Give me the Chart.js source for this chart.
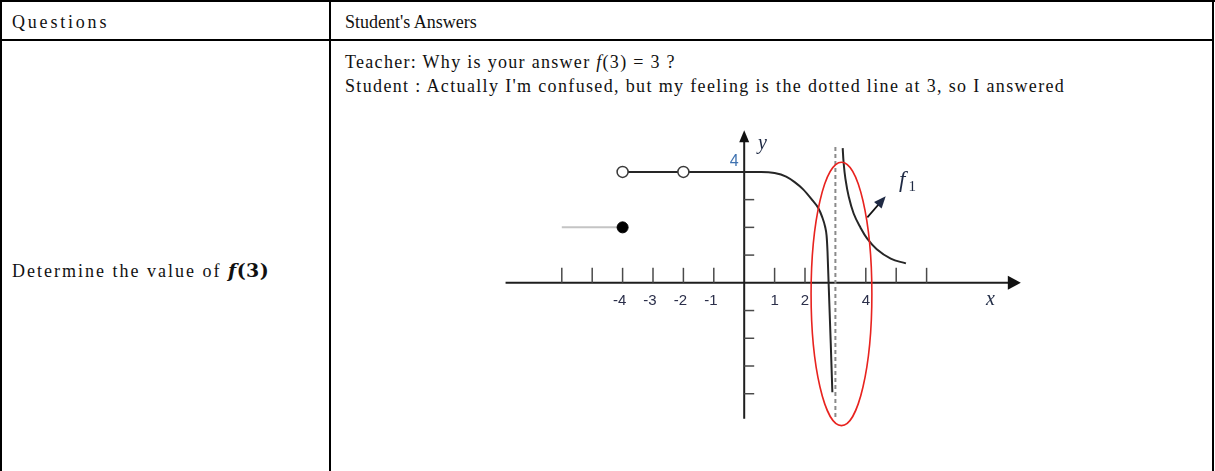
<!DOCTYPE html>
<html>
<head>
<meta charset="utf-8">
<script src="https://cdn.jsdelivr.net/npm/chart.js@4.4.1/dist/chart.umd.min.js"></script>
<style>
    body { margin: 0; background: #fff; width: 1215px; height: 471px; overflow: hidden; position: relative; }
    .line { position: absolute; background: #000; }
    .txt { position: absolute; font-family: 'Liberation Serif', 'Times New Roman', serif; font-size: 18px; color: #111; white-space: nowrap; line-height: 22px; }
    .math { font-family: 'DejaVu Serif', serif; font-size: 19px; letter-spacing: 0.5px; }
    #graph { position: absolute; left: 494px; top: 115px; }
</style>
</head>
<body>
<!-- table frame -->
<div class="line" style="left:0;top:0;width:1215px;height:2px"></div>
<div class="line" style="left:0;top:0;width:2px;height:471px"></div>
<div class="line" style="left:1212px;top:0;width:2px;height:471px"></div>
<div class="line" style="left:0;top:39px;width:1214px;height:2px"></div>
<div class="line" style="left:329px;top:0;width:2px;height:471px"></div>

<div class="txt" style="left:12px;top:11px;letter-spacing:2.8px">Questions</div>
<div class="txt" style="left:345px;top:11px">Student's Answers</div>
<div class="txt" style="left:345px;top:51px;letter-spacing:1.3px">Teacher: Why is your answer <i>f</i>(3) = 3 ?</div>
<div class="txt" style="left:345px;top:75px;letter-spacing:1.35px">Student : Actually I'm confused, but my feeling is the dotted line at 3, so I answered</div>
<div class="txt" style="left:12px;top:259px;letter-spacing:2px">Determine the value of <span class="math"><b><i>f</i>(3)</b></span></div>

<canvas id="graph" width="546" height="319"></canvas>

<script>
// left branch of f (open circles at -4 and -2, then falling towards x = 3)
const leftX = [-4, 0, 0.56, 1.0, 1.38, 1.66, 1.94, 2.24, 2.44, 2.56, 2.66, 2.71, 2.74, 2.9];
const leftY = [4, 4, 4, 3.96, 3.83, 3.63, 3.37, 2.98, 2.69, 2.39, 2.03, 1.7, 1.14, -3.95];

// right branch f1
const rightX = [3.24, 3.27, 3.33, 3.44, 3.6, 3.83, 4.04, 4.36, 4.82, 5.32];
const rightY = [4.86, 4.34, 3.75, 3.1, 2.5, 1.98, 1.6, 1.21, 0.87, 0.7];

// gray piece ending in the filled dot
const stubX = [-6, -4];
const stubY = [2, 2];

const openX = [-4, -2];
const openY = [4, 4];
const dotX = [-4];
const dotY = [2];

const asymptoteX = 3;
const asymptoteY = [4.9, -4.9];

// axes and ticks
const xAxisRange = [-7.85, 9.1];
const yAxisRange = [-4.9, 5.5];
const xTickValues = [-6, -5, -4, -3, -2, -1, 1, 2, 4, 5, 6];
const xTickLabels = [-4, -3, -2, -1, 1, 2, 4];
const yTickValues = [3, 2, 1, -1, -2, -3, -4];

const toPoints = (xs, ys) => xs.map((x, i) => ({ x: x, y: ys[i] }));

const ctx = document.getElementById('graph').getContext('2d');

// lower "order" is drawn on top
const data = {
    datasets: [
        {
            data: toPoints(stubX, stubY),
            borderColor: '#c4c4c4',
            borderWidth: 2,
            pointRadius: 0,
            showLine: true,
            order: 5
        },
        {
            data: toPoints(leftX, leftY),
            borderColor: '#262626',
            borderWidth: 2,
            pointRadius: 0,
            showLine: true,
            cubicInterpolationMode: 'monotone',
            order: 3
        },
        {
            data: toPoints(rightX, rightY),
            borderColor: '#262626',
            borderWidth: 2,
            pointRadius: 0,
            showLine: true,
            tension: 0.4,
            order: 3
        },
        {
            data: [{ x: asymptoteX, y: asymptoteY[0] }, { x: asymptoteX, y: asymptoteY[1] }],
            borderColor: '#8a8a8a',
            borderWidth: 2,
            borderDash: [4, 3],
            pointRadius: 0,
            showLine: true,
            order: 4
        },
        {
            data: [{ x: xAxisRange[0], y: 0 }, { x: xAxisRange[1] - 0.3, y: 0 }],
            borderColor: '#1e1e1e',
            borderWidth: 2,
            pointRadius: 0,
            showLine: true,
            order: 5
        },
        {
            data: [{ x: 0, y: yAxisRange[0] }, { x: 0, y: yAxisRange[1] - 0.3 }],
            borderColor: '#1e1e1e',
            borderWidth: 2,
            pointRadius: 0,
            showLine: true,
            order: 5
        },
        {
            data: toPoints(openX, openY),
            pointRadius: 5.5,
            pointBackgroundColor: '#ffffff',
            pointBorderColor: '#3a3a3a',
            pointBorderWidth: 1.5,
            showLine: false,
            order: 0
        },
        {
            data: toPoints(dotX, dotY),
            pointRadius: 5.5,
            pointBackgroundColor: '#000000',
            pointBorderColor: '#000000',
            pointBorderWidth: 1,
            showLine: false,
            order: 0
        }
    ]
};

const config = {
    type: 'scatter',
    data: data,
    options: {
        responsive: false,
        animation: false,
        devicePixelRatio: 1,
        layout: { padding: 0 },
        plugins: {
            legend: { display: false },
            tooltip: { enabled: false }
        },
        scales: {
            x: { type: 'linear', min: -8, max: 9.5, display: false },
            y: { type: 'linear', min: -5.2, max: 5.8, display: false }
        }
    },
    plugins: [
        {
            id: 'sketchExtras',
            afterDatasetsDraw: (chart) => {
                const ctx = chart.ctx;
                const sx = chart.scales.x;
                const sy = chart.scales.y;
                const px = v => sx.getPixelForValue(v);
                const py = v => sy.getPixelForValue(v);
                const x0 = px(0);
                const y0 = py(0);

                ctx.save();

                // tick marks on the x axis, pointing up
                ctx.strokeStyle = '#4a4a4a';
                ctx.lineWidth = 1.5;
                xTickValues.forEach(v => {
                    ctx.beginPath();
                    ctx.moveTo(px(v), y0);
                    ctx.lineTo(px(v), y0 - 15);
                    ctx.stroke();
                });
                // tick marks on the y axis, pointing right
                yTickValues.forEach(v => {
                    ctx.beginPath();
                    ctx.moveTo(x0, py(v));
                    ctx.lineTo(x0 + 10, py(v));
                    ctx.stroke();
                });

                // arrow heads
                ctx.fillStyle = '#111';
                const xe = px(xAxisRange[1]);
                ctx.beginPath();
                ctx.moveTo(xe, y0);
                ctx.lineTo(xe - 13, y0 - 7);
                ctx.lineTo(xe - 13, y0 + 7);
                ctx.closePath();
                ctx.fill();
                const ye = py(yAxisRange[1]);
                ctx.beginPath();
                ctx.moveTo(x0, ye);
                ctx.lineTo(x0 - 5, ye + 12);
                ctx.lineTo(x0 + 5, ye + 12);
                ctx.closePath();
                ctx.fill();

                // tick labels
                ctx.font = '15px "Liberation Sans", Arial, sans-serif';
                ctx.textAlign = 'center';
                ctx.textBaseline = 'middle';
                ctx.fillStyle = '#2b2f4a';
                xTickLabels.forEach(v => {
                    const shift = v < 0 ? -3 : 0;
                    ctx.fillText(String(v), px(v) + shift, y0 + 18);
                });
                ctx.fillStyle = '#3f72b0';
                ctx.font = '16px "Liberation Sans", Arial, sans-serif';
                ctx.fillText('4', x0 - 10, py(4) - 10);

                // axis names
                ctx.font = 'italic 20px "Liberation Serif", serif';
                ctx.fillStyle = '#1f2a44';
                ctx.fillText('y', px(0.6), py(5.0));
                ctx.fillText('x', px(8.1), py(-0.6));

                // f1 label and its arrow
                ctx.font = 'italic 23px "Liberation Serif", serif';
                ctx.fillText('f', px(5.2), py(3.68));
                ctx.font = '15px "Liberation Serif", serif';
                ctx.fillText('1', px(5.2) + 10, py(3.68) + 6);

                const ax1 = px(4.05), ay1 = py(2.36);
                const ax2 = px(4.59), ay2 = py(3.04);
                ctx.strokeStyle = '#111';
                ctx.lineWidth = 1.8;
                ctx.beginPath();
                ctx.moveTo(ax1, ay1);
                ctx.lineTo(ax2, ay2);
                ctx.stroke();
                const ang = Math.atan2(ay2 - ay1, ax2 - ax1);
                ctx.beginPath();
                ctx.moveTo(ax2 + 3 * Math.cos(ang), ay2 + 3 * Math.sin(ang));
                ctx.lineTo(ax2 - 9 * Math.cos(ang) - 5 * Math.sin(ang), ay2 - 9 * Math.sin(ang) + 5 * Math.cos(ang));
                ctx.lineTo(ax2 - 9 * Math.cos(ang) + 5 * Math.sin(ang), ay2 - 9 * Math.sin(ang) - 5 * Math.cos(ang));
                ctx.closePath();
                ctx.fill();

                // red ellipse round the jump at x = 3
                const cx = px(3.2), cy = py(-0.4);
                const rx = px(4.2) - cx, ry = py(-0.4) - py(4.35);
                ctx.strokeStyle = '#e8231f';
                ctx.lineWidth = 1.6;
                ctx.beginPath();
                ctx.ellipse(cx, cy, rx, ry, 0, 0, Math.PI * 2);
                ctx.stroke();

                ctx.restore();
            }
        }
    ]
};

const chart = new Chart(ctx, config);
</script>
</body>
</html>
